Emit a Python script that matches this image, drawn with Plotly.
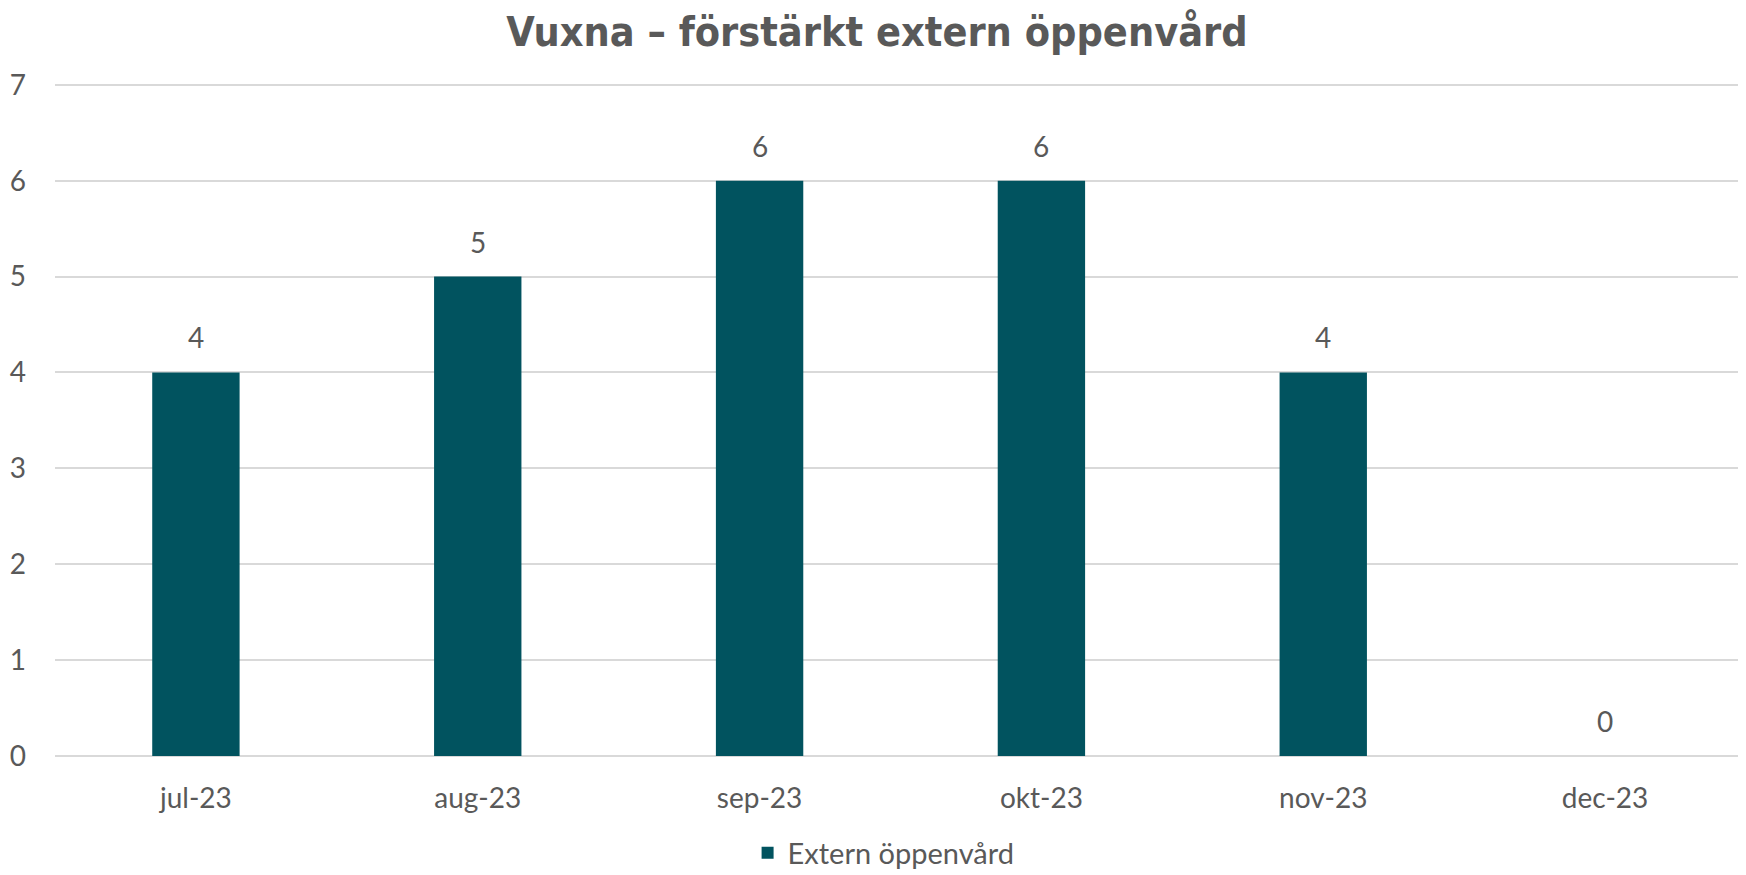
import plotly.graph_objects as go

categories = ["jul-23", "aug-23", "sep-23", "okt-23", "nov-23", "dec-23"]
values = [4, 5, 6, 6, 4, 0]
series_name = "Extern öppenvård"
title_text = "Vuxna – förstärkt extern öppenvård"
y_ticks = [0, 1, 2, 3, 4, 5, 6, 7]

bar_color = "#01535F"
text_color = "#595959"
grid_color = "#D9D9D9"

# page body has an 8px default margin, so the figure is sized to fit the window
W, H = 1738, 867

fig = go.Figure()
fig.add_trace(go.Bar(
    x=categories, y=values, name=series_name,
    marker=dict(color=bar_color, line=dict(width=0)),
    showlegend=True,
))

for c, v in zip(categories, values):
    fig.add_annotation(x=c, y=v, text=str(v), showarrow=False,
                       yshift=35, font=dict(family="Lato", size=28, color=text_color))

fig.update_layout(
    width=W, height=H,
    margin=dict(l=47, r=0, t=73, b=119, autoexpand=False),
    paper_bgcolor="white", plot_bgcolor="white",
    bargap=0.69,
    title=dict(text="<b>" + title_text + "</b>", x=0.5, xanchor="center",
               yref="container", y=1 - 9 / H, yanchor="top", pad=dict(t=0, b=0),
               font=dict(family="DejaVu Sans Condensed", size=41, color=text_color)),
    xaxis=dict(showgrid=False, showline=False, ticks="", automargin=False,
               ticklabelstandoff=23,
               tickfont=dict(family="Lato", size=28, color=text_color)),
    yaxis=dict(range=[0, 7.04], tickvals=y_ticks, showgrid=True, gridcolor=grid_color,
               gridwidth=1.5, zeroline=True, zerolinecolor=grid_color, zerolinewidth=1.5,
               showline=False, ticks="", ticklabelstandoff=28, automargin=False,
               tickfont=dict(family="Lato", size=28, color=text_color)),
    legend=dict(orientation="h", x=0.49, xanchor="center",
                yref="container", y=22 / H, yanchor="middle",
                font=dict(family="Lato", size=29, color=text_color)),
    font=dict(family="Lato", color=text_color),
)

fig.write_html("out.html")
